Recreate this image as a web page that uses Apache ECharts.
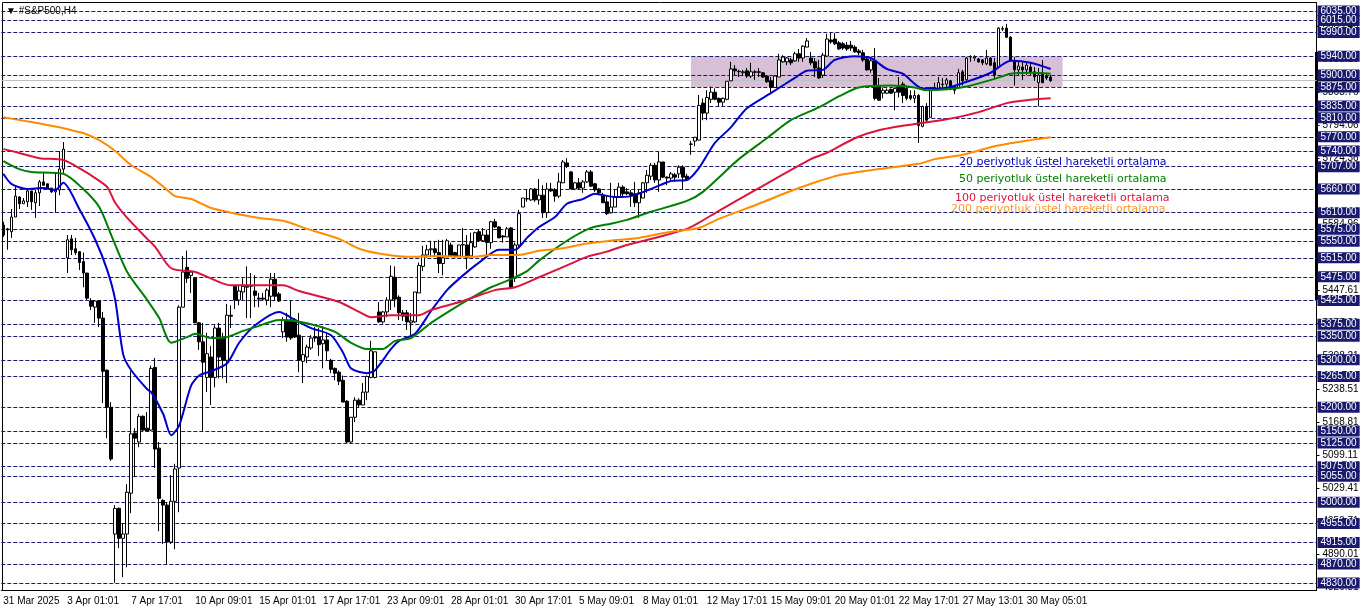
<!DOCTYPE html>
<html>

<head>
    <meta charset="UTF-8">
    <title>#S&amp;P500,H4</title>
    <style>
        html, body { margin: 0; padding: 0; background: #fff; }
        #chartBox { width: 1362px; height: 611px; }
    </style>
</head>

<script src="https://cdn.jsdelivr.net/npm/echarts@6/dist/echarts.min.js"></script>

<body>
    <div id="chartBox"></div>

    <script>
        // one label every 16 bars
        var timeLabels = ['31 Mar 2025', '3 Apr 01:01', '7 Apr 17:01', '10 Apr 09:01', '15 Apr 01:01', '17 Apr 17:01',
            '23 Apr 09:01', '28 Apr 01:01', '30 Apr 17:01', '5 May 09:01', '8 May 01:01', '12 May 17:01',
            '15 May 09:01', '20 May 01:01', '22 May 17:01', '27 May 13:01', '30 May 05:01'];

        // platform's own price scale ticks
        var priceTicks = [6003.46, 5933.16, 5863.76, 5794.06, 5724.36, 5654.66, 5584.96, 5447.61, 5377.91, 5308.21,
            5238.51, 5168.81, 5099.11, 5029.41, 4959.71, 4890.01, 4820.31];

        // drawn support / resistance levels
        var levels = [6035, 6015, 5990, 5940, 5900, 5875, 5835, 5810, 5770, 5740, 5707, 5660, 5610, 5575, 5550, 5515,
            5475, 5425, 5375, 5350, 5300, 5265, 5200, 5150, 5125, 5075, 5055, 5000, 4955, 4915, 4870, 4830];

        var bidPrice = 5890;
        var zoneTop = 5939, zoneBottom = 5875, zoneFromBar = 172, zoneToBar = 265;

        // [open, close, low, high]
        var candles = [
            [5584,5563,5559,5591],[5576,5574,5532,5578],[5570,5601,5557,5618],[5601,5645,5601,5668],[5643,5629,5618,5645],
            [5629,5635,5629,5641],[5633,5656,5622,5658],[5656,5633,5616,5656],[5631,5652,5599,5658],[5652,5675,5624,5679],
            [5675,5668,5668,5694],[5671,5662,5660,5671],[5662,5654,5652,5662],[5654,5660,5610,5696],[5658,5702,5647,5740],
            [5702,5744,5694,5759],[5515,5553,5483,5563],[5555,5532,5521,5563],[5534,5526,5521,5557],[5528,5505,5489,5528],
            [5507,5483,5453,5526],[5483,5430,5426,5483],[5424,5413,5405,5430],[5411,5424,5378,5426],[5424,5388,5369,5426],
            [5388,5276,5209,5401],[5278,5200,5135,5280],[5200,5091,5087,5211],[4933,4987,4830,4994],[4987,4924,4903,4989],
            [4924,4933,4842,4956],[4933,5021,4863,5038],[5019,5144,4977,5276],[5146,5135,5053,5156],[5127,5181,5116,5186],
            [5181,5152,5150,5183],[5156,5150,5150,5190],[5152,5282,5150,5288],[5284,5112,5072,5304],[5114,5008,4939,5127],
            [5004,4994,4912,5006],[4994,4916,4870,5000],[4916,5002,4912,5057],[5002,5070,4901,5081],[5072,5411,4979,5415],
            [5411,5485,5411,5519],[5495,5472,5462,5530],[5478,5485,5441,5485],[5472,5378,5378,5472],[5378,5338,5321,5380],
            [5338,5295,5148,5378],[5263,5313,5232,5357],[5306,5263,5205,5329],[5263,5367,5242,5373],[5367,5306,5261,5378],
            [5346,5299,5261,5357],[5299,5394,5251,5418],[5394,5392,5367,5415],[5455,5426,5407,5457],[5426,5445,5415,5457],
            [5443,5455,5426,5472],[5453,5455,5388,5497],[5457,5455,5388,5483],[5445,5436,5411,5478],[5430,5428,5411,5441],
            [5430,5428,5426,5441],[5426,5447,5415,5451],[5434,5470,5411,5483],[5470,5434,5424,5483],[5439,5424,5422,5443],
            [5359,5384,5346,5390],[5384,5348,5338,5399],[5384,5346,5342,5426],[5384,5348,5346,5388],[5352,5299,5274,5399],
            [5297,5311,5251,5348],[5306,5327,5293,5332],[5325,5346,5321,5352],[5348,5346,5338,5369],[5348,5332,5308,5367],
            [5334,5342,5282,5371],[5342,5319,5299,5357],[5299,5280,5272,5302],[5282,5272,5257,5284],[5274,5255,5247,5278],
            [5257,5211,5211,5267],[5213,5127,5125,5215],[5127,5179,5125,5179],[5179,5215,5169,5221],[5215,5205,5200,5219],
            [5205,5232,5205,5251],[5232,5265,5215,5267],[5263,5319,5261,5340],[5263,5317,5261,5317],[5401,5380,5378,5422],
            [5380,5401,5376,5403],[5401,5426,5390,5432],[5426,5476,5405,5499],[5474,5428,5411,5497],[5432,5399,5384,5436],
            [5399,5392,5382,5405],[5399,5380,5363,5405],[5378,5382,5352,5399],[5380,5443,5378,5443],[5441,5499,5441,5505],
            [5497,5521,5487,5540],[5521,5532,5515,5542],[5532,5534,5517,5551],[5534,5526,5517,5549],[5526,5503,5483,5553],
            [5503,5515,5478,5553],[5517,5551,5517,5555],[5542,5519,5517,5547],[5526,5517,5517,5528],[5519,5542,5517,5542],
            [5542,5543,5519,5578],[5542,5515,5491,5563],[5519,5547,5517,5568],[5538,5568,5536,5570],[5570,5551,5549,5574],
            [5551,5563,5549,5578],[5563,5547,5521,5574],[5547,5591,5534,5593],[5591,5580,5578,5597],[5580,5557,5557,5582],
            [5561,5559,5547,5563],[5559,5576,5559,5580],[5578,5453,5453,5580],[5472,5542,5464,5547],[5542,5608,5536,5616],
            [5622,5641,5622,5641],[5639,5640,5633,5658],[5637,5660,5635,5662],[5660,5637,5633,5662],[5637,5647,5627,5681],
            [5647,5610,5599,5668],[5610,5660,5599,5673],[5660,5656,5654,5673],[5658,5645,5633,5662],[5645,5675,5641,5694],
            [5673,5717,5673,5721],[5715,5708,5704,5725],[5696,5660,5660,5698],[5660,5673,5658,5675],[5673,5662,5658,5683],
            [5662,5675,5652,5679],[5675,5696,5673,5700],[5696,5666,5664,5700],[5671,5658,5654,5673],[5660,5652,5647,5662],
            [5647,5631,5631,5652],[5633,5608,5605,5647],[5610,5622,5608,5673],[5622,5643,5622,5658],[5643,5664,5641,5673],
            [5664,5650,5643,5668],[5654,5650,5647,5662],[5652,5647,5622,5658],[5650,5631,5622,5675],[5631,5652,5599,5658],
            [5641,5673,5641,5675],[5673,5689,5652,5700],[5687,5710,5679,5715],[5710,5679,5673,5715],[5679,5717,5654,5738],
            [5717,5685,5683,5717],[5685,5683,5668,5687],[5683,5692,5679,5696],[5690,5685,5675,5694],[5692,5706,5683,5710],
            [5706,5685,5660,5710],[5687,5679,5677,5692],[5754,5755,5732,5761],[5761,5769,5750,5769],[5763,5836,5763,5858],
            [5841,5820,5805,5851],[5820,5853,5805,5868],[5849,5864,5841,5876],[5864,5849,5847,5872],[5851,5843,5834,5853],
            [5843,5851,5834,5853],[5849,5887,5847,5887],[5888,5913,5888,5928],[5913,5909,5900,5921],[5907,5908,5896,5911],
            [5905,5907,5900,5911],[5909,5898,5894,5915],[5898,5907,5894,5926],[5907,5906,5890,5911],[5907,5906,5896,5915],
            [5905,5896,5894,5905],[5898,5886,5884,5900],[5888,5874,5864,5896],[5874,5898,5874,5900],[5896,5932,5896,5945],
            [5928,5938,5926,5942],[5928,5936,5921,5938],[5932,5926,5921,5936],[5930,5945,5928,5949],[5945,5936,5928,5955],
            [5936,5961,5928,5963],[5959,5972,5959,5978],[5936,5926,5921,5949],[5928,5915,5896,5936],[5915,5894,5892,5932],
            [5900,5942,5894,5947],[5940,5976,5940,5987],[5974,5970,5966,5989],[5976,5966,5963,5989],[5968,5955,5953,5972],
            [5966,5957,5953,5970],[5963,5955,5951,5970],[5963,5957,5951,5972],[5959,5949,5947,5963],[5951,5947,5942,5955],
            [5947,5932,5928,5953],[5934,5911,5909,5938],[5911,5930,5905,5934],[5930,5851,5847,5957],[5878,5847,5847,5894],
            [5862,5868,5851,5874],[5862,5868,5860,5872],[5870,5862,5860,5872],[5864,5872,5826,5874],[5878,5864,5853,5896],
            [5881,5857,5841,5886],[5872,5851,5847,5878],[5857,5851,5847,5868],[5851,5857,5841,5868],[5857,5794,5757,5860],
            [5792,5834,5790,5836],[5834,5805,5799,5841],[5811,5874,5811,5874],[5868,5874,5868,5884],[5872,5884,5868,5896],
            [5881,5880,5872,5894],[5881,5890,5868,5894],[5888,5874,5868,5890],[5876,5868,5860,5878],[5874,5905,5872,5913],
            [5907,5888,5878,5911],[5890,5936,5888,5938],[5938,5939,5928,5942],[5936,5938,5930,5942],[5934,5928,5926,5936],
            [5932,5926,5921,5934],[5924,5936,5921,5953],[5936,5921,5919,5938],[5926,5900,5894,5936],[5917,5999,5917,6001],
            [5997,5998,5993,6003],[5999,5980,5978,6008],[5980,5932,5930,5982],[5930,5911,5878,5938],[5911,5919,5900,5928],
            [5917,5911,5890,5928],[5911,5921,5900,5926],[5917,5907,5900,5926],[5907,5896,5888,5917],[5884,5900,5834,5915],
            [5905,5884,5884,5932],[5898,5894,5890,5905],[5896,5888,5886,5900]
        ];

        // moving averages, [bar, price]
        var ema20 = [[0,5692],[2,5671],[6,5660],[10,5662],[13,5658],[15,5673],[19,5618],[23,5553],[26,5489],[28,5426],[30,5311],
            [32,5278],[36,5238],[37,5232],[40,5186],[42,5141],[44,5162],[47,5246],[49,5267],[52,5276],[56,5293],[59,5336],
            [63,5373],[69,5401],[73,5384],[77,5367],[82,5352],[85,5315],[87,5282],[91,5272],[93,5278],[97,5323],[99,5340],
            [103,5355],[107,5403],[111,5447],[115,5478],[119,5505],[124,5532],[128,5532],[131,5557],[134,5580],[138,5601],
            [141,5629],[145,5639],[148,5650],[153,5643],[157,5645],[162,5660],[167,5677],[171,5679],[174,5704],[178,5757],
            [182,5790],[186,5830],[192,5862],[198,5894],[201,5909],[205,5911],[208,5932],[213,5940],[217,5936],[221,5913],
            [225,5903],[230,5872],[235,5872],[241,5886],[247,5905],[252,5930],[257,5926],[262,5913]];
        var ema50 = [[0,5719],[4,5702],[7,5696],[15,5692],[20,5660],[24,5622],[27,5563],[31,5485],[36,5426],[39,5388],[42,5336],
            [46,5348],[48,5355],[52,5346],[56,5348],[60,5361],[63,5369],[69,5384],[73,5382],[78,5373],[83,5359],[87,5336],
            [91,5323],[95,5323],[98,5340],[102,5346],[107,5378],[112,5405],[117,5430],[122,5453],[127,5470],[131,5487],
            [134,5509],[141,5551],[147,5578],[152,5587],[156,5595],[162,5612],[171,5635],[175,5654],[184,5723],[191,5767],
            [197,5805],[204,5832],[209,5855],[214,5874],[222,5878],[228,5874],[231,5868],[236,5870],[241,5876],[248,5892],
            [252,5903],[257,5905],[262,5903]];
        var ema100 = [[0,5744],[4,5736],[9,5725],[15,5721],[19,5704],[23,5683],[26,5664],[28,5631],[31,5599],[36,5555],[38,5538],
            [42,5493],[48,5485],[54,5464],[57,5457],[70,5457],[74,5445],[84,5422],[89,5401],[92,5390],[97,5394],[104,5394],
            [107,5405],[115,5424],[123,5447],[128,5453],[134,5474],[141,5499],[146,5517],[151,5528],[156,5542],[164,5559],
            [171,5576],[174,5589],[179,5614],[189,5662],[202,5723],[206,5736],[213,5767],[219,5784],[228,5797],[236,5807],
            [244,5822],[251,5841],[256,5847],[262,5851]];
        var ema200 = [[0,5811],[7,5801],[14,5790],[17,5784],[20,5778],[24,5763],[28,5740],[32,5710],[37,5685],[41,5658],[43,5645],
            [47,5639],[52,5620],[57,5610],[64,5599],[70,5593],[76,5576],[84,5555],[89,5534],[94,5524],[101,5517],[109,5519],
            [117,5517],[122,5521],[129,5521],[134,5530],[139,5534],[146,5545],[154,5553],[159,5557],[167,5570],[174,5578],
            [179,5597],[189,5629],[199,5662],[209,5689],[219,5702],[229,5713],[233,5723],[240,5732],[248,5750],[257,5763],
            [262,5769]];

        drawChart();

        function drawChart() {
            var myChart = echarts.init(document.getElementById('chartBox'));

            var barCount = 329;
            var categories = [];
            for (var i = 0; i < barCount; i++) {
                categories.push(i % 16 === 0 && timeLabels[i / 16] ? timeLabels[i / 16] : '');
            }

            function isLabelled(index, value) {
                return value !== '';
            }

            function emaSeries(name, color, data) {
                return {
                    name: name,
                    type: 'line',
                    data: data,
                    showSymbol: false,
                    smooth: 0.25,
                    z: 4,
                    lineStyle: { color: color, width: 2 },
                    silent: true
                };
            }

            var levelLines = levels.map(function (v) {
                return { yAxis: v };
            });
            levelLines.push({
                yAxis: bidPrice,
                label: { show: false },
                lineStyle: { color: '#c0c0c0', type: 'solid', width: 1 }
            });

            function noteText(text, x, y, color) {
                return {
                    type: 'text', left: x, top: y, silent: true, z: 20,
                    style: { text: text, fill: color, font: '11px "DejaVu Sans"' }
                };
            }

            var option = {
                animation: false,
                backgroundColor: '#fff',
                textStyle: { fontFamily: 'Liberation Sans' },
                title: {
                    text: '▼ #S&P500,H4',
                    left: 6,
                    top: 6,
                    padding: 0,
                    textStyle: { fontSize: 10, fontWeight: 'normal', color: '#000', fontFamily: 'Liberation Sans' }
                },
                grid: { left: 1.3, right: 45.5, top: 2.5, bottom: 20.5 },
                xAxis: {
                    type: 'category',
                    data: categories,
                    axisLine: { lineStyle: { color: '#000' } },
                    axisTick: { interval: isLabelled, alignWithLabel: true, length: 3, lineStyle: { color: '#000' } },
                    axisLabel: { interval: isLabelled, align: 'left', color: '#000', fontSize: 10, margin: 6, hideOverlap: false },
                    splitLine: { show: false }
                },
                yAxis: {
                    type: 'value',
                    position: 'right',
                    min: 4814,
                    max: 6053,
                    axisLine: { show: true, lineStyle: { color: '#000' } },
                    axisTick: { show: true, length: 3, customValues: priceTicks, lineStyle: { color: '#000' } },
                    axisLabel: {
                        customValues: priceTicks,
                        color: '#000',
                        fontSize: 10,
                        margin: 6,
                        formatter: function (v) { return v.toFixed(2); }
                    },
                    splitLine: { show: false }
                },
                graphic: [
                    // chart frame and the heavy part of the price scale edge
                    {
                        type: 'rect', silent: true, z: 0,
                        shape: { x: 2.5, y: 2.5, width: 1314, height: 588 },
                        style: { fill: 'none', stroke: '#000', lineWidth: 1 }
                    },
                    {
                        type: 'rect', silent: true, z: 0,
                        shape: { x: 1315, y: 52, width: 3, height: 248 },
                        style: { fill: '#000' }
                    },
                    {
                        type: 'rect', silent: true, z: 0,
                        shape: { x: 1316, y: 80, width: 44, height: 1 },
                        style: { fill: '#000' }
                    },
                    noteText('20 periyotluk üstel hareketli ortalama', 959, 157, '#0000cd'),
                    noteText('50 periyotluk üstel hareketli ortalama', 959, 174, '#008000'),
                    noteText('100 periyotluk üstel hareketli ortalama', 955, 193, '#dc143c'),
                    noteText('200 periyotluk üstel hareketli ortalama', 951, 204, '#ff9a1f')
                ],
                series: [
                    {
                        name: '#S&P500',
                        type: 'candlestick',
                        data: candles,
                        barWidth: 3,
                        z: 3,
                        silent: true,
                        itemStyle: {
                            color: '#fff',
                            color0: '#000',
                            borderColor: '#000',
                            borderColor0: '#000',
                            borderWidth: 1
                        },
                        markArea: {
                            silent: true,
                            z: 1,
                            itemStyle: { color: '#d8bfd8' },
                            data: [[
                                { coord: [zoneFromBar, zoneTop] },
                                { coord: [zoneToBar, zoneBottom] }
                            ]]
                        },
                        markLine: {
                            silent: true,
                            z: 2,
                            symbol: 'none',
                            precision: 2,
                            lineStyle: { color: '#191970', type: [4, 2], width: 1 },
                            label: {
                                show: true,
                                position: 'end',
                                distance: 1,
                                color: '#fff',
                                fontSize: 10,
                                lineHeight: 11,
                                backgroundColor: '#191970',
                                padding: [0, 3],
                                formatter: function (p) { return p.value.toFixed(2); }
                            },
                            data: levelLines
                        }
                    },
                    emaSeries('EMA20', '#0000cd', ema20),
                    emaSeries('EMA50', '#008000', ema50),
                    emaSeries('EMA100', '#dc143c', ema100),
                    emaSeries('EMA200', '#ff8c00', ema200)
                ]
            };

            myChart.setOption(option);
        }
    </script>

</body>

</html>
